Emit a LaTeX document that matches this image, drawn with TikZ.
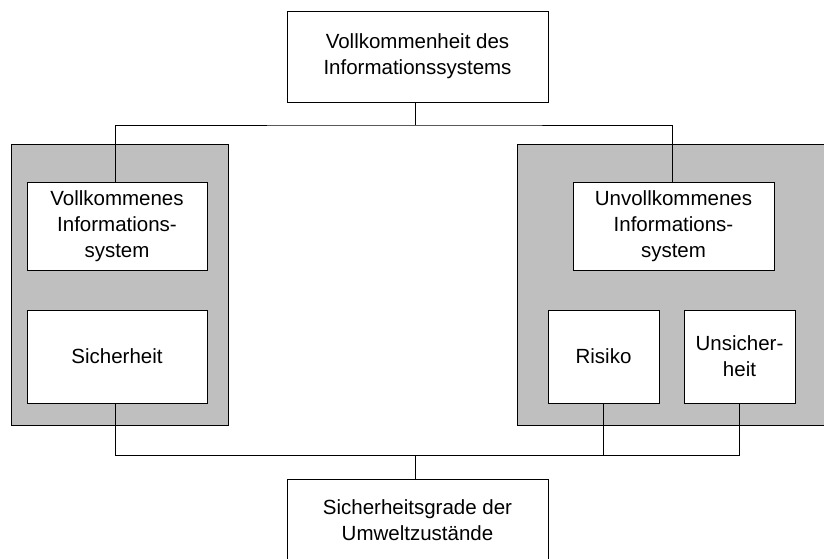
\documentclass[tikz,border=0pt]{standalone}
\usepackage{fontspec}
\setmainfont{Liberation Sans}
\begin{document}
\begin{tikzpicture}[x=1pt,y=-1pt,
  every node/.style={font=\fontsize{20.5}{26}\selectfont},
  box/.style={draw=black, line width=1pt, fill=white, align=center, inner sep=0pt},
  panel/.style={draw=black, line width=1pt, fill=black!25},
  link/.style={draw=black, line width=1pt}]
\useasboundingbox (0,0) rectangle (824,558);
\clip (0,0) rectangle (824,558);

% grey groups
\path[panel] (11,144) rectangle (228,425);
\path[panel] (517,144) rectangle (840,425);

% nodes
\node[box, minimum width=261pt, minimum height=91pt] (top) at (417.5,56.5)
  {Vollkommenheit des\\Informationssystems};
\node[box, minimum width=180pt, minimum height=88pt] (vis) at (117,226)
  {Vollkommenes\\Informations-\\system};
\node[box, minimum width=201pt, minimum height=88pt] (uvis) at (673.5,226)
  {Unvollkommenes\\Informations-\\system};
\node[box, minimum width=180pt, minimum height=93pt] (sich) at (117,356.5)
  {Sicherheit};
\node[box, minimum width=111pt, minimum height=93pt] (risk) at (603.5,356.5)
  {Risiko};
\node[box, minimum width=111pt, minimum height=93pt] (unsich) at (739.5,356.5)
  {Unsicher-\\heit};
\node[box, minimum width=261pt, minimum height=82pt] (bottom) at (417.5,520)
  {Sicherheitsgrade der\\Umweltzustände};

% upper connectors
\coordinate (thub) at (415,125);
\draw[link] (top.south -| thub) -- (thub);
\draw[link] ([xshift=-2pt]vis.north) |- (thub) -| ([xshift=-1.5pt]uvis.north);

% lower connectors
\coordinate (bhub) at (415,455);
\draw[link] ([xshift=-2pt]sich.south) |- (bhub) -| (unsich.south);
\draw[link] (risk.south) -- (risk.south |- bhub);
\draw[link] (bhub) -- (bottom.north -| bhub);
\end{tikzpicture}
\end{document}
